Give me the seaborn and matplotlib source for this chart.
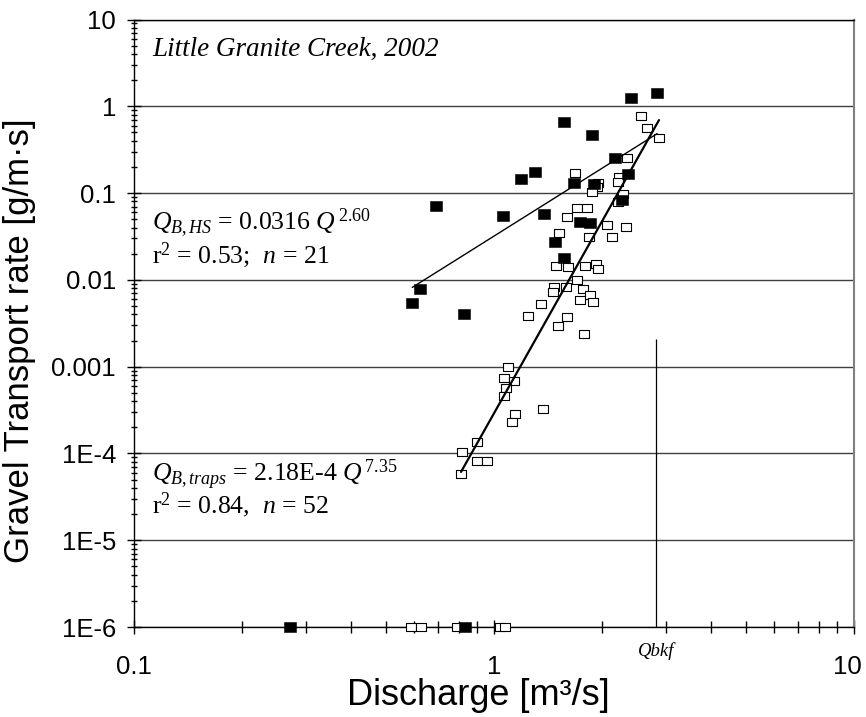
import numpy as np
import seaborn as sns
import matplotlib.pyplot as plt
import matplotlib.transforms as mtransforms
from matplotlib.ticker import LogLocator, FixedLocator, NullFormatter

# Helley-Smith samples (filled squares), discharge [m3/s] vs transport [g/m.s]
hs_q = [2.41, 2.84, 1.57, 1.87, 2.17, 1.30, 1.19, 1.67, 1.90, 2.35, 0.692,
        1.057, 1.38, 1.73, 1.85, 2.27, 1.48, 1.57, 0.625, 0.593, 0.826]
hs_qb = [1.26, 1.41, 0.655, 0.467, 0.252, 0.177, 0.145, 0.130, 0.126, 0.166,
         0.0705, 0.054, 0.057, 0.0469, 0.0456, 0.083, 0.0271, 0.018,
         0.00785, 0.00546, 0.00402]
hs_zero_q = [0.272, 0.83]

# bedload trap samples (open squares)
traps_q = [2.556, 2.657, 2.873, 2.337, 1.679, 2.229, 2.215, 1.949, 1.929, 1.872,
           2.282, 2.215, 1.697, 1.816, 1.592, 2.056, 2.322, 1.515, 1.840, 2.123,
           1.486, 1.605, 1.793, 1.920, 1.941, 1.701, 1.468, 1.455, 1.582, 1.764,
           1.848, 1.733, 1.887, 1.351, 1.243, 1.592, 1.509, 1.775, 1.092, 1.068,
           1.137, 1.078, 1.066, 1.366, 1.142, 1.120, 0.897, 0.813, 0.895, 0.958,
           0.810]
traps_qb = [0.773, 0.567, 0.435, 0.254, 0.172, 0.153, 0.135, 0.131, 0.1185, 0.103,
            0.0976, 0.0796, 0.0668, 0.0682, 0.0526, 0.0429, 0.0407, 0.0344, 0.0315, 0.0310,
            0.01445, 0.0139, 0.01445, 0.01524, 0.01335, 0.00985, 0.00822, 0.0072, 0.00822, 0.0078,
            0.0067, 0.00586, 0.00552, 0.00524, 0.00387, 0.00371, 0.00292, 0.00236, 0.001, 0.000735,
            0.00069, 0.000573, 0.000463, 0.000326, 0.000287, 0.000229, 0.000135, 0.000103, 8.26e-5, 8.26e-5,
            5.81e-5]
traps_zero_q = [0.59, 0.627, 0.788, 1.04, 1.07]

zero_floor = 1e-6
q_bkf = 2.82
q_bkf_top = 0.0021

y_ticks = [1e-6, 1e-5, 1e-4, 1e-3, 1e-2, 0.1, 1, 10]
y_tick_labels = ['1E-6', '1E-5', '1E-4', '0.001', '0.01', '0.1', '1', '10']
x_ticks = [0.1, 1, 10]
x_tick_labels = ['0.1', '1', '10']

sns.set_theme(style="white")
plt.rcParams['font.family'] = ['Liberation Sans', 'DejaVu Sans']
plt.rcParams['mathtext.fontset'] = 'custom'
plt.rcParams['mathtext.rm'] = 'Liberation Serif'
plt.rcParams['mathtext.it'] = 'Liberation Serif:italic'
plt.rcParams['mathtext.bf'] = 'Liberation Serif:bold'

fig = plt.figure(figsize=(8.66, 7.17), dpi=100)
ax = fig.add_axes([0.1547, 0.1255, 0.8314, 0.8473])

# slightly wide boxes like the original squares
rect = [(-1.3, -1), (1.3, -1), (1.3, 1), (-1.3, 1), (-1.3, -1)]

sns.scatterplot(x=traps_q, y=traps_qb, marker=rect, s=62, color='white',
                edgecolor='black', linewidth=0.8, zorder=3, ax=ax)
sns.scatterplot(x=traps_zero_q, y=[zero_floor] * len(traps_zero_q), marker=rect, s=62,
                color='white', edgecolor='black', linewidth=0.8, zorder=3,
                clip_on=False, ax=ax)
sns.scatterplot(x=hs_q, y=hs_qb, marker=rect, s=72, color='black',
                edgecolor='black', linewidth=0.4, zorder=4, ax=ax)
sns.scatterplot(x=hs_zero_q, y=[zero_floor] * len(hs_zero_q), marker=rect, s=72,
                color='black', edgecolor='black', linewidth=0.4, zorder=4,
                clip_on=False, ax=ax)

# power-law trendlines (log-log regression, like the spreadsheet trendline)
def power_fit(q, qb):
    b, a = np.polyfit(np.log(q), np.log(qb), 1)
    qq = np.array([min(q), max(q)])
    return qq, np.exp(a) * qq ** b

hs_x, hs_y = power_fit(hs_q, hs_qb)
tr_x, tr_y = power_fit(traps_q, traps_qb)
sns.lineplot(x=hs_x, y=hs_y, color='black', linewidth=1.0, zorder=5, ax=ax)
sns.lineplot(x=tr_x, y=tr_y, color='black', linewidth=1.6, zorder=5, ax=ax)

# bankfull discharge marker
ax.vlines(q_bkf, zero_floor, q_bkf_top, color='black', linewidth=0.9, zorder=2)

ax.set_xscale('log')
ax.set_yscale('log')
ax.set_xlim(0.1, 10)
ax.set_ylim(1e-6, 10)

ax.xaxis.set_major_locator(FixedLocator(x_ticks))
ax.set_xticklabels(x_tick_labels)
ax.yaxis.set_major_locator(FixedLocator(y_ticks))
ax.set_yticklabels(y_tick_labels)
ax.xaxis.set_minor_locator(LogLocator(base=10, subs=np.arange(2, 10), numticks=20))
ax.yaxis.set_minor_locator(LogLocator(base=10, subs=np.arange(2, 10), numticks=20))
ax.xaxis.set_minor_formatter(NullFormatter())
ax.yaxis.set_minor_formatter(NullFormatter())

ax.tick_params(axis='both', which='major', direction='inout', length=10,
               width=1, color='black', labelsize=18.5, labelcolor='black')
ax.tick_params(axis='x', which='major', pad=15)
ax.tick_params(axis='y', which='major', pad=8)
ax.tick_params(axis='x', which='minor', direction='inout', length=9, width=1, color='black')
ax.tick_params(axis='y', which='minor', direction='inout', length=5, width=1, color='black')
ax.tick_params(bottom=True, left=True, which='both')

# the last x label sits a little inside the figure edge
last = ax.get_xticklabels()[-1]
last.set_transform(last.get_transform()
                   + mtransforms.ScaledTranslation(-5 / 72, 0, fig.dpi_scale_trans))

ax.yaxis.grid(True, which='major', color='#404040', linewidth=1)
ax.xaxis.grid(False)

for side in ['left', 'bottom', 'top']:
    ax.spines[side].set_color('black')
    ax.spines[side].set_linewidth(1)
ax.spines['right'].set_color('#808080')
ax.spines['right'].set_linewidth(1.5)

ax.set_xlabel('Discharge [m³/s]', fontsize=26, color='black')
ax.set_ylabel('Gravel Transport rate [g/m·s]', fontsize=25, color='black')
ax.xaxis.set_label_coords(0.478, -0.084)
ax.yaxis.set_label_coords(-0.136, 0.472)

serif = dict(family='Liberation Serif', fontsize=18.5, color='black',
             transform=ax.transAxes, ha='left', va='baseline')
ax.text(0.025, 0.9399, 'Little Granite Creek, 2002', style='italic',
        **{**serif, 'fontsize': 19.5})
ax.text(0.025, 0.6535, r'$Q_{B,HS}$ = 0.0316 $Q^{\,2.60}$', **serif)
ax.text(0.025, 0.5995, r'r$^2$ = 0.53;  $n$ = 21', **serif)
ax.text(0.025, 0.2405, r'$Q_{B,traps}$ = 2.18E-4 $Q^{\,7.35}$', **serif)
ax.text(0.025, 0.1865, r'r$^2$ = 0.84,  $n$ = 52', **serif)

trans = mtransforms.blended_transform_factory(ax.transData, ax.transAxes)
ax.text(q_bkf, -0.0477, 'Qbkf', family='Liberation Serif', style='italic',
        fontsize=13.5, color='black', ha='center', va='baseline', transform=trans)

fig.savefig('out.png', dpi=100)
